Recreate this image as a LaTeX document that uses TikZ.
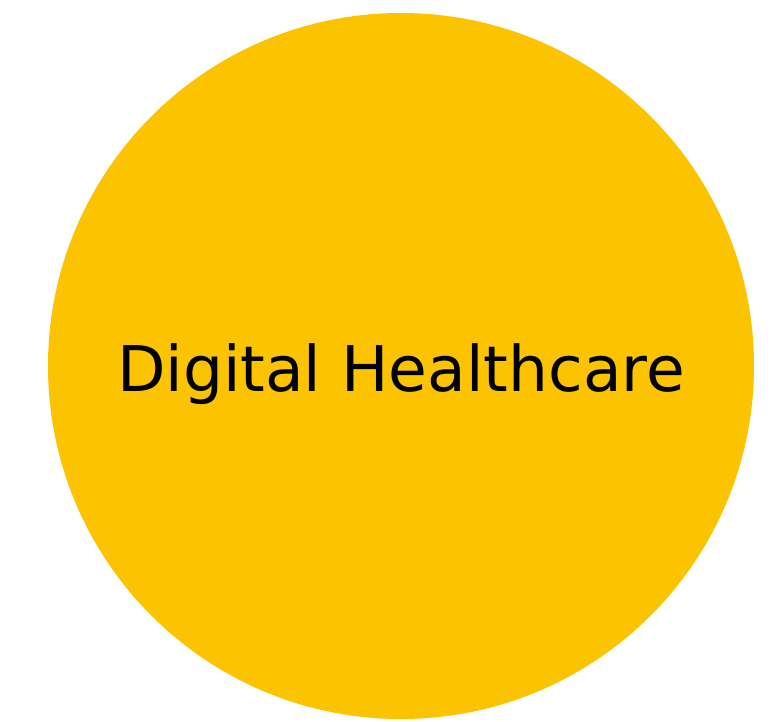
\documentclass[tikz,border=0pt]{standalone}
\usepackage{fontspec}
\setmainfont{DejaVu Sans}
\definecolor{healthyellow}{HTML}{FBC300}
\tikzset{
    topic/.style={circle, fill=healthyellow, minimum size=706pt, inner sep=0pt},
    topictext/.style={anchor=base, inner sep=0pt, font=\fontsize{63}{70}\selectfont, text=black}
}
\begin{document}
\begin{tikzpicture}[x=1pt, y=1pt]
    % Frame
    \useasboundingbox (0,0) rectangle (774,721);

    % Central topic
    \node[topic] (health) at (401,355) {};
    \node[topictext] (healthtext) at (401,329) {Digital Healthcare};
\end{tikzpicture}
\end{document}
